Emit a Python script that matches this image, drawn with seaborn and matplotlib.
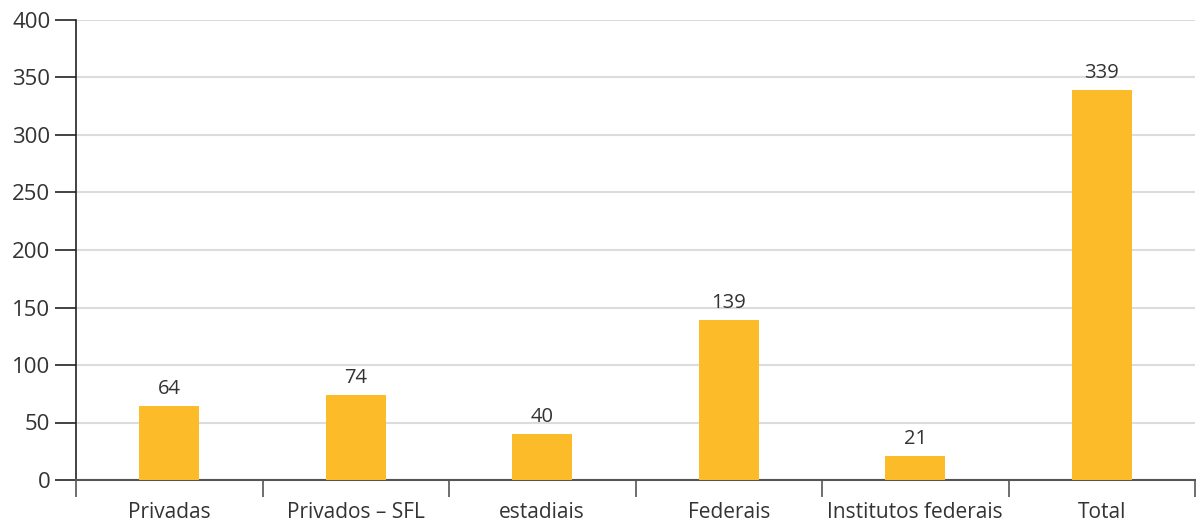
import numpy as np
import pandas as pd
import matplotlib
matplotlib.use('Agg')
import matplotlib.pyplot as plt
import seaborn as sns
from matplotlib.ticker import FixedLocator

categorias = ['Privadas', 'Privados – SFL', 'estadiais', 'Federais', 'Institutos federais', 'Total']
valores = [64, 74, 40, 139, 21, 339]
yticks = [0, 50, 100, 150, 200, 250, 300, 350, 400]

sns.set_style('white')
plt.rcParams['font.family'] = ['Liberation Sans Narrow', 'Open Sans', 'DejaVu Sans']
plt.rcParams['text.color'] = '#333333'

df = pd.DataFrame({'categoria': categorias, 'valor': valores})

fig = plt.figure(figsize=(11.96, 5.24), dpi=100)
ax = fig.add_axes([76 / 1196, 44 / 524, 1119 / 1196, 460 / 524])

sns.barplot(data=df, x='categoria', y='valor', color='#FCBC29', width=0.32,
            saturation=1, linewidth=0, ax=ax, zorder=3)

ax.bar_label(ax.containers[0], labels=[str(v) for v in valores], padding=5,
             fontsize=14.5, color='#333333')

ax.set_ylim(0, 400)
ax.set_xlim(-0.5, len(categorias) - 0.5)
ax.set_yticks(yticks)
ax.yaxis.grid(True, color='#dcdcdc', linewidth=1.5, zorder=0)
ax.set_axisbelow(True)
ax.set_xlabel('')
ax.set_ylabel('')

for s in ['top', 'right']:
    ax.spines[s].set_visible(False)
ax.spines['left'].set_color('#222222')
ax.spines['left'].set_linewidth(1.2)
ax.spines['bottom'].set_color('#555555')
ax.spines['bottom'].set_linewidth(1.5)

ax.tick_params(axis='y', direction='out', length=15, width=1.2, color='#222222',
               labelsize=16, labelcolor='#333333', left=True)
ax.tick_params(axis='x', which='major', length=0, labelsize=15,
               labelcolor='#333333', pad=16)
ax.xaxis.set_minor_locator(FixedLocator(np.arange(-0.5, len(categorias), 1.0)))
ax.tick_params(axis='x', which='minor', direction='out', length=12, width=1.2,
               color='#555555', bottom=True)

fig.savefig('out.png', dpi=100)
